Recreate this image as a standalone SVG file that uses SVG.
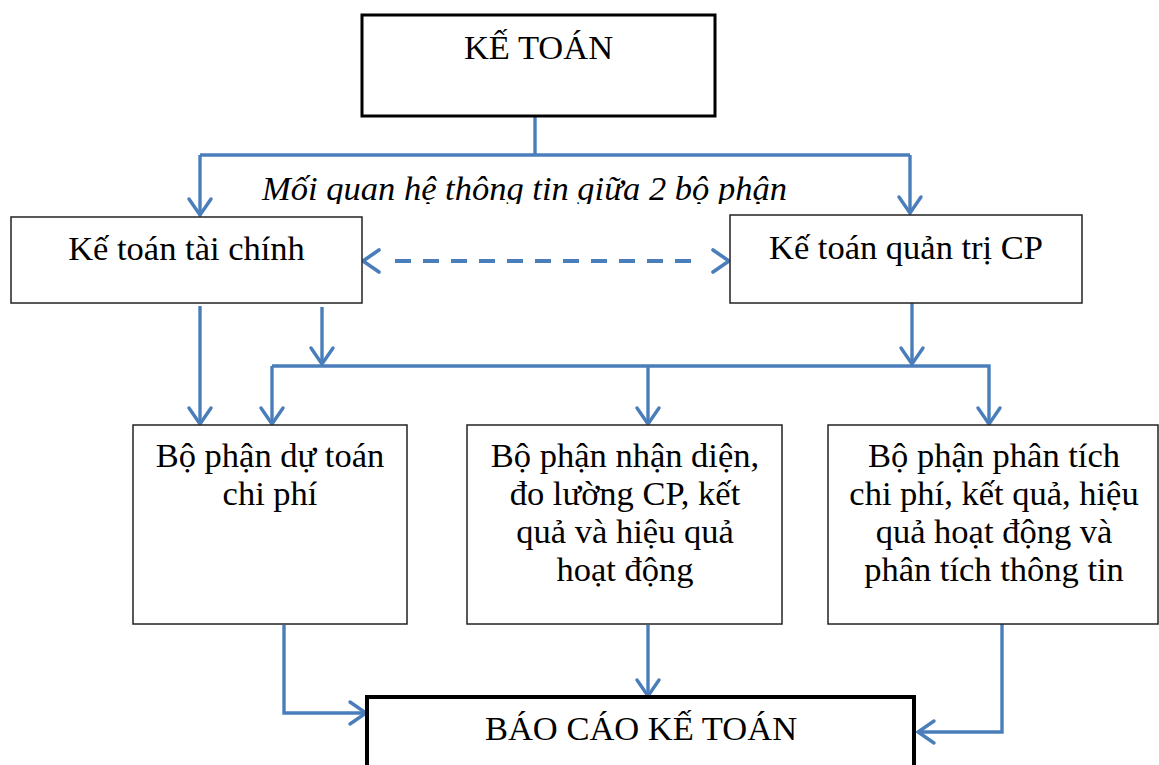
<svg xmlns="http://www.w3.org/2000/svg" width="1159" height="765" viewBox="0 0 1159 765">
<style>
.box{fill:#fff;stroke:#222;stroke-width:1.5}
.thick{fill:#fff;stroke:#000;stroke-width:4}
.mid{fill:#fff;stroke:#000;stroke-width:3}
.t{font-family:"Liberation Serif","Times New Roman",serif;font-size:34.5px;fill:#000;text-anchor:middle}
.it{font-style:italic}
.c{fill:none;stroke:#4A7EBB;stroke-width:3.4;stroke-linejoin:miter}
.d{stroke-dasharray:16 12;stroke-width:3.8}
.h{fill:none;stroke:#4A7EBB;stroke-width:3.6;stroke-linecap:round}
</style>
<defs>
<marker id="ah" markerUnits="userSpaceOnUse" viewBox="-20 -14 24 28" refX="0" refY="0" markerWidth="24" markerHeight="28" orient="auto-start-reverse">
<path d="M-16,-11 L0,0 L-16,11" fill="none" stroke="#4A7EBB" stroke-width="3.4" stroke-linecap="round"/>
</marker>
<clipPath id="clipLbl"><rect x="240" y="160" width="580" height="44"/></clipPath>
</defs>

<g id="connectors">
<path class="c" d="M535,116 V155"/>
<path class="c" d="M200,155 H910"/>
<path class="c" d="M200,155 V215" marker-end="url(#ah)"/>
<path class="c" d="M910,155 V213" marker-end="url(#ah)"/>
<line class="c d" x1="395" y1="261" x2="691" y2="261"/>
<path class="h" d="M379,250 L363,261 L379,272"/>
<path class="h" d="M713,250 L729,261 L713,272"/>
<path class="c" d="M200,306 V424" marker-end="url(#ah)"/>
<path class="c" d="M322,307 V364" marker-end="url(#ah)"/>
<path class="c" d="M912,303 V364" marker-end="url(#ah)"/>
<path class="c" d="M272,366 H989 V424" marker-end="url(#ah)"/>
<path class="c" d="M272,366 V424" marker-end="url(#ah)"/>
<path class="c" d="M648,366 V424" marker-end="url(#ah)"/>
<path class="c" d="M284,625 V713 H366" marker-end="url(#ah)"/>
<path class="c" d="M648,625 V696" marker-end="url(#ah)"/>
<path class="c" d="M1002,624 V732 H918" marker-end="url(#ah)"/>
</g>

<g id="n-ketoan">
<rect class="mid" x="362" y="15" width="353" height="101"/>
<text class="t" x="538.5" y="59">KẾ TOÁN</text>
</g>

<g id="lbl-quanhe" clip-path="url(#clipLbl)">
<text class="t it" x="524.5" y="200">Mối quan hệ thông tin giữa 2 bộ phận</text>
</g>

<g id="n-ktc">
<rect class="box" x="11" y="217" width="351" height="86"/>
<text class="t" x="186.5" y="260">Kế toán tài chính</text>
</g>

<g id="n-ktqt">
<rect class="box" x="730" y="215" width="352" height="88"/>
<text class="t" x="906" y="259">Kế toán quản trị CP</text>
</g>

<g id="n-dutoan">
<rect class="box" x="133" y="425" width="274" height="199"/>
<text class="t" x="270" y="467">Bộ phận dự toán</text>
<text class="t" x="270" y="505">chi phí</text>
</g>

<g id="n-nhandien">
<rect class="box" x="467" y="425" width="315" height="199"/>
<text class="t" x="625" y="467">Bộ phận nhận diện,</text>
<text class="t" x="625" y="505">đo lường CP, kết</text>
<text class="t" x="625" y="543">quả và hiệu quả</text>
<text class="t" x="625" y="581">hoạt động</text>
</g>

<g id="n-phantich">
<rect class="box" x="828" y="425" width="330" height="199"/>
<text class="t" x="994" y="467">Bộ phận phân tích</text>
<text class="t" x="994" y="505">chi phí, kết quả, hiệu</text>
<text class="t" x="994" y="543">quả hoạt động và</text>
<text class="t" x="994" y="581">phân tích thông tin</text>
</g>

<g id="n-baocao">
<rect class="thick" x="367" y="697" width="547" height="90"/>
<text class="t" x="641" y="740">BÁO CÁO KẾ TOÁN</text>
</g>
</svg>
